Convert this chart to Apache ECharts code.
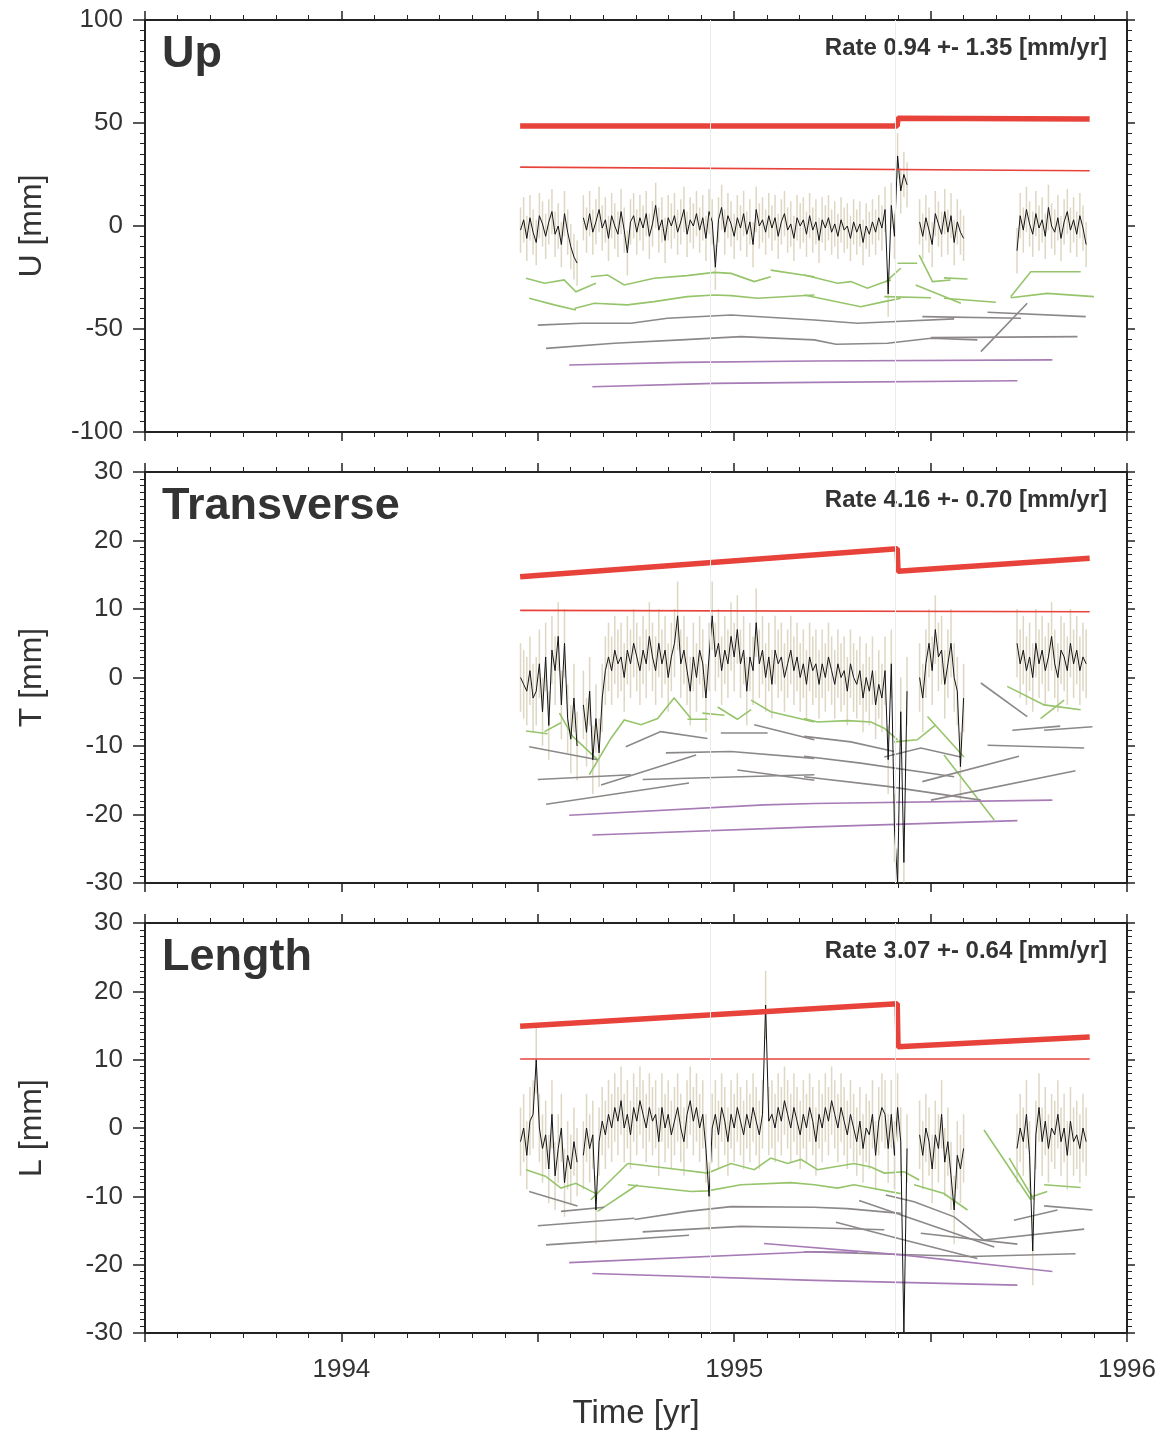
<!DOCTYPE html>
<html><head><meta charset="utf-8">
<script src="https://cdn.jsdelivr.net/npm/echarts@6/dist/echarts.min.js"></script>
<style>html,body{margin:0;padding:0;background:#fff}#c{width:1170px;height:1436px}</style>
</head><body><div id="c"></div><script>
// ---- sample epochs (regular daily-ish sampling) ----
const T0 = 1994.456, DT = 0.008;
const faintEpochs = [1994.94, 1995.415];

// ---- Up ----
const upVals = [-2,3,-6,4,-3,-8,5,1,-5,2,7,-4,0,-9,6,-3,-10,-15,-18,
 null,
 4,-2,6,-3,2,8,-1,3,-6,5, 0,-4,7,-2,-13,2,5,-3,4,-1, 6,-5,1,10,-2,3,-7,4,0,5,
 -3,2,8,-4,3,0,6,-2,4,-6, 7,2,-20,3,9,-3,5,1,-5,4, -1,6,-4,2,-9,8,0,3,-3,5,
 -1,4,-5,2,6,-2,1,-6,4,0, 3,-4,5,-2,2,-7,3,-1,4,-3, 1,-5,3,-2,0,-6,2,-3,1,-8,
 0,-4,2,-3,4,-1,8,-33,10,-5, 34,17,25,20,
 null,null,null,
 2,-5,4,-2,-9,6,1,-4,7,-3,5,-8,2,-3,-6,
 null,null,null,null,null,null,null,null,null,null,null,null,null,null,null,null,
 -12,5,-2,8,1,-4,6,-1,3,-5,9,0,-3,4,-6,2,7,-2,3,-4,5,-1,-9];
const sigU = 11;
const thickU = [[1994.455,48.5],[1995.415,48.6],[1995.417,52.3],[1995.905,52.0]];
const thinU = [[1994.455,28.6],[1995.905,26.8]];
const greenU = [
 [[1994.470,-25.4],[1994.517,-27.8],[1994.567,-26.2],[1994.597,-31.9],[1994.648,-27.8]],
 [[1994.635,-24.6],[1994.678,-23.8],[1994.720,-28.6],[1994.796,-25.4],[1994.880,-24.1],[1994.949,-22.5],[1994.992,-23.0],[1995.051,-27.0],[1995.093,-24.6]],
 [[1995.093,-21.4],[1995.204,-24.6]],
 [[1995.178,-23.8],[1995.263,-27.8],[1995.297,-27.0],[1995.339,-30.2],[1995.373,-27.8],[1995.399,-26.2]],
 [[1995.386,-27.0],[1995.424,-20.5]],
 [[1995.416,-18.1],[1995.466,-18.1]],
 [[1995.471,-14.1],[1995.505,-27.0],[1995.551,-26.2]],
 [[1995.534,-25.2],[1995.594,-25.7]],
 [[1995.704,-34.3],[1995.755,-22.2],[1995.882,-22.2]],
 [[1994.478,-35.1],[1994.542,-38.3],[1994.597,-40.8]],
 [[1994.593,-40.0],[1994.644,-37.5],[1994.728,-38.3],[1994.796,-36.7],[1994.880,-34.3],[1994.949,-33.5],[1994.992,-33.8],[1995.059,-35.1],[1995.204,-33.5]],
 [[1995.178,-33.5],[1995.322,-39.2],[1995.382,-36.7],[1995.424,-35.1]],
 [[1995.382,-34.3],[1995.501,-34.8]],
 [[1995.462,-28.6],[1995.577,-37.5]],
 [[1995.534,-35.1],[1995.666,-37.0]],
 [[1995.704,-34.8],[1995.797,-32.7],[1995.916,-34.3]]
];
const grayU = [
 [[1994.500,-48.1],[1994.610,-47.2],[1994.737,-47.2],[1994.830,-44.8],[1994.992,-43.2],[1995.204,-45.6],[1995.314,-47.2],[1995.399,-46.5],[1995.560,-45.1]],
 [[1995.479,-44.0],[1995.730,-44.8]],
 [[1995.645,-41.9],[1995.895,-44.0]],
 [[1994.521,-59.4],[1994.695,-56.9],[1994.864,-55.3],[1995.017,-53.7],[1995.204,-55.3],[1995.259,-57.4],[1995.390,-56.9],[1995.501,-54.5],[1995.619,-55.3]],
 [[1995.501,-54.2],[1995.874,-53.7]],
 [[1995.628,-61.0],[1995.746,-37.5]]
];
const purpleU = [
 [[1994.580,-67.5],[1994.864,-66.2],[1995.204,-65.5],[1995.810,-65.0]],
 [[1994.639,-78.0],[1994.949,-76.4],[1995.204,-75.9],[1995.721,-75.1]]
];

// ---- Transverse ----
const tVals = [0,-1,-2,1,-3,-2,2,-5,3,-7,4,1,6,-4,5,-6,-9,-3,-10,
 null,
 -4,-8,-2,-12,-6,-11,-3,1,3,1, 4,2,3,0,4,2,5,3,1,4, 2,6,3,1,5,2,4,0,3,5,
 9,2,4,1,-2,3,0,4,2,-3, 3,9,3,5,1,4,2,6,3,7, 2,4,-2,3,1,8,2,4,0,3,
 -1,4,2,3,0,2,4,1,3,0, 2,-1,3,1,2,-1,2,0,3,1, -1,2,0,1,-2,2,0,-1,1,-3,
 0,-2,1,-4,-1,-3,1,-12,2,-22, -30,-5,-27,-2,
 null,null,null,
 0,-3,2,5,1,7,3,4,-1,2,5,0,-2,-13,-3,
 null,null,null,null,null,null,null,null,null,null,null,null,null,null,null,null,
 5,2,4,1,3,0,5,2,4,1,3,6,2,0,4,3,1,5,2,4,1,3,2];
const sigT = 5;
const thickT = [[1994.455,14.7],[1995.415,18.8],[1995.417,15.5],[1995.905,17.4]];
const thinT = [[1994.455,9.8],[1995.905,9.6]];
const greenT = [
 [[1994.470,-7.8],[1994.525,-8.2]],
 [[1994.517,-7.9],[1994.559,-6.6]],
 [[1994.555,-5.2],[1994.589,-8.6],[1994.652,-12.0]],
 [[1994.631,-14.2],[1994.686,-8.9],[1994.720,-6.2],[1994.763,-6.9],[1994.805,-6.0],[1994.847,-3.0],[1994.890,-6.0]],
 [[1994.881,-6.1],[1994.932,-6.1]],
 [[1994.919,-5.2],[1994.975,-5.5]],
 [[1994.958,-4.3],[1995.008,-6.1],[1995.043,-4.7]],
 [[1995.043,-3.3],[1995.093,-5.0],[1995.204,-6.5]],
 [[1995.178,-6.0],[1995.212,-6.5],[1995.288,-6.3],[1995.348,-6.5],[1995.382,-7.4],[1995.416,-9.1]],
 [[1995.407,-9.4],[1995.466,-9.1],[1995.513,-6.9]],
 [[1995.492,-5.7],[1995.585,-11.6]],
 [[1995.534,-11.3],[1995.662,-20.8]],
 [[1995.695,-1.3],[1995.789,-4.0],[1995.882,-4.7]],
 [[1995.780,-6.0],[1995.840,-3.3]]
];
const grayT = [
 [[1994.478,-10.1],[1994.652,-12.0]],
 [[1994.500,-14.9],[1994.737,-14.2]],
 [[1994.661,-15.7],[1994.903,-11.3]],
 [[1994.724,-10.1],[1994.813,-7.9],[1994.932,-8.9]],
 [[1994.966,-8.1],[1995.085,-8.1]],
 [[1994.826,-11.0],[1994.992,-10.8],[1995.204,-11.8]],
 [[1995.051,-6.9],[1995.204,-9.1]],
 [[1994.767,-14.9],[1995.017,-14.5],[1995.204,-14.2]],
 [[1994.521,-18.5],[1994.885,-15.4]],
 [[1995.008,-13.5],[1995.204,-15.0]],
 [[1995.178,-8.6],[1995.297,-9.4],[1995.407,-10.8]],
 [[1995.382,-11.6],[1995.475,-10.3],[1995.577,-11.6]],
 [[1995.708,-7.7],[1995.830,-7.1]],
 [[1995.789,-7.7],[1995.912,-7.2]],
 [[1995.645,-9.9],[1995.891,-10.3]],
 [[1995.178,-11.5],[1995.322,-12.5],[1995.560,-14.5]],
 [[1995.479,-15.2],[1995.725,-11.5]],
 [[1995.178,-14.5],[1995.390,-15.9],[1995.628,-17.9]],
 [[1995.501,-17.9],[1995.869,-13.6]],
 [[1995.628,-0.8],[1995.746,-5.7]]
];
const purpleT = [
 [[1994.580,-20.1],[1995.076,-18.6],[1995.204,-18.4],[1995.810,-17.9]],
 [[1994.639,-23.0],[1995.204,-21.8],[1995.721,-20.9]]
];

// ---- Length ----
const lVals = [-2,0,-4,1,2,10,0,-3,-1,-6,2,-7,-3,0,-8,-4,-6,-2,-5,
 null,
 -4,0,-3,-1,-12,-2,1,-1,2,0, 3,1,4,0,2,-1,3,1,4,2, 0,3,1,2,-2,3,0,2,-1,1,
 3,0,-2,2,4,1,3,0,2,-3, -10,0,2,-1,3,1,-2,2,0,3, 1,-1,2,0,3,1,-1,2,18,1,
 2,0,3,1,4,2,0,3,1,-1, 2,0,3,1,-2,2,0,3,1,4, 2,0,3,1,-1,2,0,-2,1,-3,
 0,-1,2,-4,1,3,2,-3,2,-4, 3,-2,-30,-3,
 null,null,null,
 -1,-4,0,-2,-6,-1,-3,2,-5,-2,-7,-12,-4,-6,-3,
 null,null,null,null,null,null,null,null,null,null,null,null,null,null,null,null,
 -3,0,-2,2,-4,-18,-1,3,-2,1,-3,0,-1,2,-2,0,-4,1,-2,-1,-3,0,-2];
const sigL = 5;
const thickL = [[1994.455,14.9],[1995.415,18.2],[1995.417,11.9],[1995.905,13.3]];
const thinL = [[1994.455,10.1],[1995.905,10.1]];
const greenL = [
 [[1994.470,-6.1],[1994.521,-7.1]],
 [[1994.521,-7.1],[1994.559,-8.8],[1994.597,-8.1],[1994.648,-9.6]],
 [[1994.635,-10.5],[1994.729,-5.2]],
 [[1994.729,-5.2],[1994.847,-6.0],[1994.932,-6.6],[1994.992,-5.2],[1995.051,-6.1],[1995.093,-4.4],[1995.136,-5.2],[1995.170,-4.6],[1995.212,-6.1],[1995.305,-5.2],[1995.348,-5.7],[1995.382,-6.6],[1995.433,-6.4],[1995.471,-7.6]],
 [[1994.729,-8.3],[1994.890,-9.3],[1994.932,-9.2],[1995.017,-8.3],[1995.144,-8.0],[1995.204,-8.3],[1995.263,-8.8],[1995.305,-8.3],[1995.424,-9.6]],
 [[1994.652,-12.2],[1994.754,-8.3]],
 [[1995.458,-8.3],[1995.534,-9.6],[1995.594,-12.0]],
 [[1995.636,-0.3],[1995.755,-10.5]],
 [[1995.700,-4.4],[1995.763,-10.5]],
 [[1995.755,-10.1],[1995.797,-9.3]],
 [[1995.789,-8.3],[1995.882,-8.7]]
];
const grayL = [
 [[1994.478,-9.3],[1994.601,-11.4]],
 [[1994.559,-12.2],[1994.669,-11.6]],
 [[1994.500,-14.3],[1994.746,-13.2]],
 [[1994.746,-13.4],[1994.881,-12.2],[1994.992,-11.5],[1995.204,-11.6],[1995.288,-11.8],[1995.424,-12.5]],
 [[1994.767,-15.2],[1995.017,-14.4],[1995.204,-14.6],[1995.382,-14.9]],
 [[1994.521,-17.1],[1994.885,-15.7]],
 [[1995.318,-10.6],[1995.662,-17.4]],
 [[1995.386,-9.8],[1995.458,-10.8],[1995.560,-13.0],[1995.636,-16.4]],
 [[1995.259,-13.8],[1995.433,-16.4],[1995.619,-19.1]],
 [[1995.475,-15.4],[1995.721,-17.0]],
 [[1995.636,-16.4],[1995.891,-14.8]],
 [[1995.712,-13.5],[1995.823,-12.0]],
 [[1995.789,-11.4],[1995.912,-12.0]],
 [[1995.178,-18.1],[1995.602,-18.8],[1995.869,-18.4]]
];
const purpleL = [
 [[1995.076,-16.9],[1995.433,-18.6],[1995.810,-21.0]],
 [[1994.580,-19.7],[1995.204,-18.1],[1995.314,-18.2]],
 [[1994.639,-21.3],[1995.204,-22.3],[1995.721,-23.0]]
];

// ---- axis / labels ----
const xMin = 1993.5, xMax = 1996, xInt = 0.5;
const panelTitles = ['Up', 'Transverse', 'Length'];
const rateTexts = ['Rate 0.94 +- 1.35 [mm/yr]', 'Rate 4.16 +- 0.70 [mm/yr]', 'Rate 3.07 +- 0.64 [mm/yr]'];
const yNames = ['U [mm]', 'T [mm]', 'L [mm]'];
const yRanges = [[-100, 100, 50], [-30, 30, 10], [-30, 30, 10]];

const panels = [
 {vals: upVals, sig: sigU, thick: thickU, thin: thinU, green: greenU, gray: grayU, purple: purpleU},
 {vals: tVals, sig: sigT, thick: thickT, thin: thinT, green: greenT, gray: grayT, purple: purpleT},
 {vals: lVals, sig: sigL, thick: thickL, thin: thinL, green: greenL, gray: grayL, purple: purpleL}
];
const gridTops = [20, 472, 923];
const gridHeights = [412, 411, 410];

const FONT = '"Liberation Sans", Arial, sans-serif';
const AX = '#222', TXT = '#333';
const grid = [], xAxis = [], yAxis = [], series = [], graphic = [];

panels.forEach((p, k) => {
  grid.push({left: 145, right: 43, top: gridTops[k], height: gridHeights[k]});
  const [ymin, ymax, yint] = yRanges[k];
  const baseX = {
    gridIndex: k, type: 'value', min: xMin, max: xMax, interval: xInt,
    axisLine: {show: true, onZero: false, lineStyle: {color: AX, width: 2}},
    axisTick: {show: true, length: 9, lineStyle: {color: AX, width: 1.5}},
    minorTick: {show: true, splitNumber: 6, length: 5, lineStyle: {color: AX, width: 1}},
    splitLine: {show: false}, minorSplitLine: {show: false}
  };
  xAxis.push(Object.assign({}, baseX, {
    position: 'bottom',
    axisLabel: {show: k === 2, fontSize: 26, color: TXT, fontFamily: FONT, margin: 24,
      formatter: v => Math.abs(v - Math.round(v)) < 1e-6 ? String(Math.round(v)) : ''},
    name: k === 2 ? 'Time [yr]' : '', nameLocation: 'middle', nameGap: 64,
    nameTextStyle: {fontSize: 33, color: TXT, fontFamily: FONT}
  }));
  xAxis.push(Object.assign({}, baseX, {position: 'top', axisLabel: {show: false}}));
  const baseY = {
    gridIndex: k, type: 'value', min: ymin, max: ymax, interval: yint,
    axisLine: {show: true, onZero: false, lineStyle: {color: AX, width: 2}},
    axisTick: {show: true, length: 12, lineStyle: {color: AX, width: 1.5}},
    minorTick: {show: true, splitNumber: 10, length: 5, lineStyle: {color: AX, width: 1}},
    splitLine: {show: false}, minorSplitLine: {show: false}
  };
  yAxis.push(Object.assign({}, baseY, {
    position: 'left',
    axisLabel: {show: true, fontSize: 26, color: TXT, fontFamily: FONT, margin: 22},
    name: yNames[k], nameLocation: 'middle', nameGap: 97,
    nameTextStyle: {fontSize: 32, color: TXT, fontFamily: FONT}
  }));
  yAxis.push(Object.assign({}, baseY, {position: 'right', axisTick: {show: true, length: 8, lineStyle: {color: AX, width: 1.5}}, axisLabel: {show: false}}));

  const xi = 2 * k, yi = 2 * k;
  const pts = p.vals.map((v, i) => [T0 + i * DT, v === null ? '-' : v]);
  const bars = [];
  p.vals.forEach((v, i) => {
    if (v === null) return;
    bars.push([T0 + i * DT, Math.max(ymin, v - p.sig), Math.min(ymax, v + p.sig)]);
  });
  series.push({
    type: 'custom', xAxisIndex: xi, yAxisIndex: yi, silent: true, z: 1,
    encode: {x: 0, y: [1, 2]}, data: bars,
    renderItem: (params, api) => {
      const a = api.coord([api.value(0), api.value(1)]);
      const b = api.coord([api.value(0), api.value(2)]);
      return {type: 'line', shape: {x1: a[0], y1: a[1], x2: b[0], y2: b[1]},
        style: {stroke: 'rgba(190,175,135,0.5)', lineWidth: 1.5}};
    }
  });
  [['#96c46a', p.green], ['#8c8888', p.gray], ['#a77bb6', p.purple]].forEach(([c, polys]) => {
    series.push({
      type: 'lines', coordinateSystem: 'cartesian2d', xAxisIndex: xi, yAxisIndex: yi,
      polyline: true, silent: true, z: 2,
      lineStyle: {color: c, width: 1.6, opacity: 1},
      data: polys.map(cs => ({coords: cs}))
    });
  });
  series.push({
    type: 'line', xAxisIndex: xi, yAxisIndex: yi, data: pts, symbol: 'none', silent: true, z: 3,
    connectNulls: false, clip: true,
    lineStyle: {color: '#151515', width: 1},
    markLine: {silent: true, symbol: 'none', label: {show: false},
      lineStyle: {color: '#ececec', width: 1, type: 'solid'},
      data: faintEpochs.map(e => ({xAxis: e}))}
  });
  series.push({type: 'line', xAxisIndex: xi, yAxisIndex: yi, data: p.thin, symbol: 'none', silent: true, z: 4,
    lineStyle: {color: '#e8433b', width: 1.6}});
  series.push({type: 'line', xAxisIndex: xi, yAxisIndex: yi, data: p.thick, symbol: 'none', silent: true, z: 4,
    lineStyle: {color: '#e8433b', width: 5.5}});

  graphic.push({type: 'text', left: 162, top: gridTops[k] + 12,
    style: {text: panelTitles[k], font: 'bold 45px ' + FONT, fill: TXT}});
  graphic.push({type: 'text', right: 63, top: gridTops[k] + 16,
    style: {text: rateTexts[k], font: 'bold 24px ' + FONT, fill: TXT}});
});

const chart = echarts.init(document.getElementById('c'), null, {renderer: 'canvas'});
chart.setOption({backgroundColor: '#fff', animation: false, grid, xAxis, yAxis, series, graphic});
</script></body></html>
